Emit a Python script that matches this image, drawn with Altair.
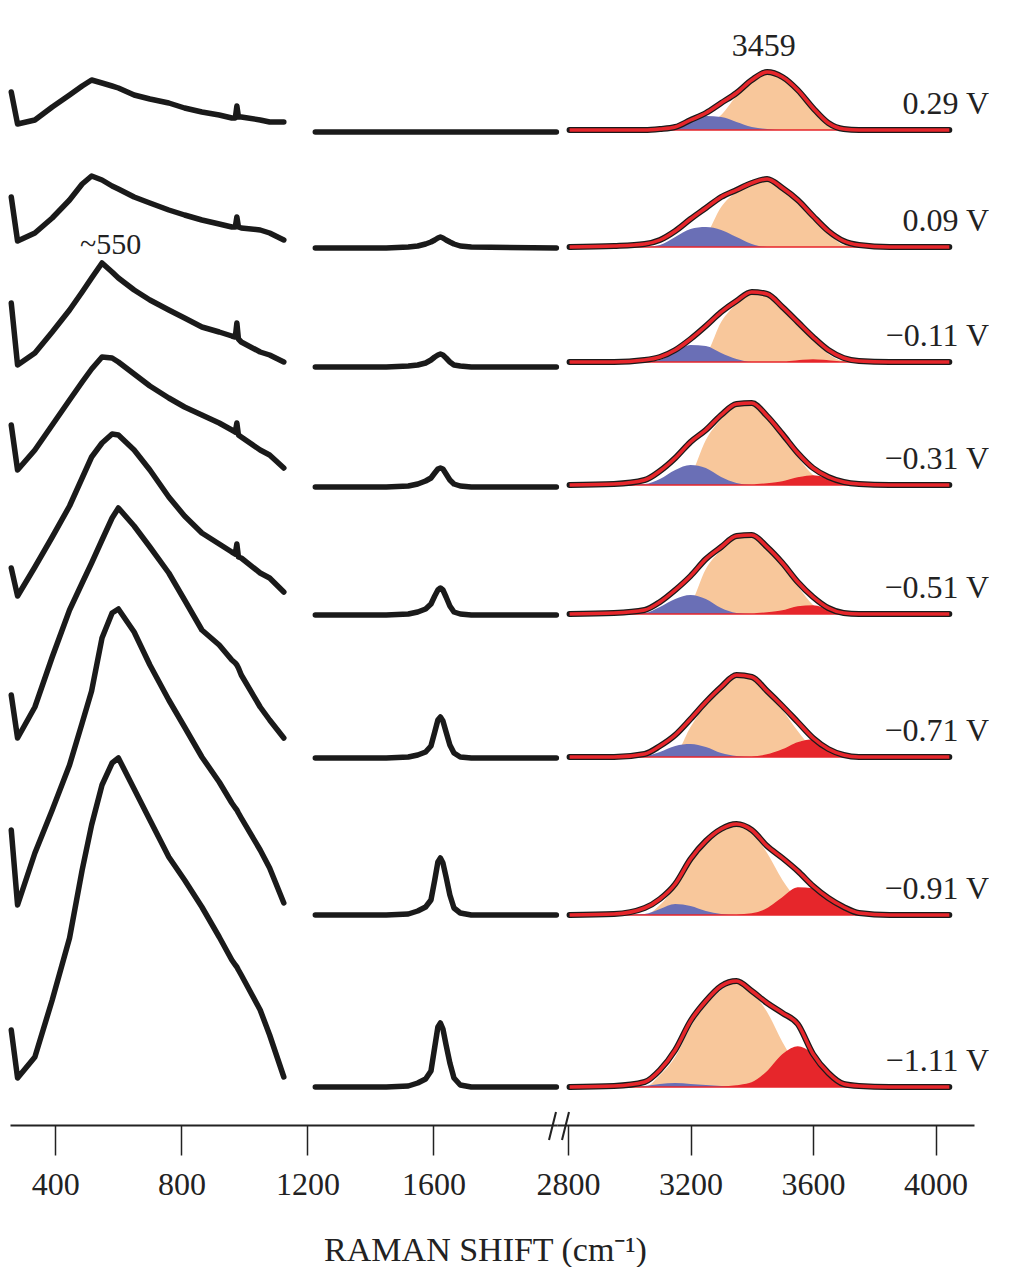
import altair as alt
import pandas as pd

# ---------------- data ----------------
VOLTS = ["0.29 V", "0.09 V", "\u22120.11 V", "\u22120.31 V",
         "\u22120.51 V", "\u22120.71 V", "\u22120.91 V", "\u22121.11 V"]

# low-frequency region (absolute stacked intensity, arbitrary units)
LEFT_W = [260, 280, 335, 390, 445, 485, 515, 548, 580, 600, 650, 700, 760, 810,
          865, 920, 960, 971, 976, 981, 990, 1050, 1080, 1125]
LEFT_1 = [1033, 1001, 1005, 1018, 1030, 1039, 1045, 1042, 1039, 1037, 1030, 1026, 1022, 1017,
          1013, 1010, 1007, 1007, 1019, 1008, 1008, 1005, 1003, 1003]
LEFT_2 = [928, 884, 892, 907, 925, 941, 949, 945, 939, 936, 928, 922, 915, 910,
          905, 901, 898, 898, 908, 898, 897, 895, 892, 885]
LEFT_3 = [822, 760, 772, 793, 815, 833, 847, 862, 853, 847, 835, 825, 815, 807,
          798, 793, 789, 788, 802, 786, 783, 773, 770, 763]
LEFT_4 = [700, 655, 675, 700, 725, 743, 756, 768, 767, 763, 751, 739, 727, 718,
          710, 702, 695, 693, 702, 690, 688, 675, 670, 657]
LEFT_5 = [557, 529, 558, 588, 619, 647, 668, 682, 691, 690, 675, 655, 628, 609,
          592, 581, 573, 571, 581, 568, 567, 552, 547, 533]
LEFT_6 = [430, 387, 418, 468, 515, 542, 562, 585, 607, 617, 599, 578, 552, 525,
          495, 480, 465, 462, 460, 457, 450, 418, 405, 387]
LEFT_7 = [295, 220, 272, 315, 360, 402, 434, 487, 512, 516, 493, 460, 425, 398,
          368, 343, 322, 317, 315, 312, 307, 275, 257, 222]
LEFT_8 = [95, 47, 68, 125, 187, 255, 300, 340, 362, 367, 336, 305, 268, 245,
          218, 188, 165, 160, 158, 155, 150, 115, 90, 48]
LEFT = [LEFT_1, LEFT_2, LEFT_3, LEFT_4, LEFT_5, LEFT_6, LEFT_7, LEFT_8]

# bending-mode region (offset + intensity)
MID_W = [1225, 1450, 1520, 1550, 1575, 1592, 1604, 1614, 1622, 1630, 1640, 1652,
         1665, 1685, 1720, 1990]
MID_BASE = [993, 877, 758, 638, 510, 367, 210, 38]
MID_1 = [0, 0, 0, 0, 0, 0, 0, 0, 0, 0, 0, 0, 0, 0, 0, 0]
MID_2 = [0, 0, 1, 2, 4, 6, 8, 10, 11, 10, 8, 6, 4, 2, 1, 0]
MID_3 = [0, 0, 1, 2, 4, 7, 10, 12, 13, 12, 9, 5, 2, 1, 0, 0]
MID_4 = [0, 0, 1, 3, 6, 9, 14, 18, 19, 18, 13, 7, 3, 1, 0, 0]
MID_5 = [0, 0, 1, 3, 6, 11, 19, 25, 27, 25, 18, 9, 3, 1, 0, 0]
MID_6 = [0, 0, 1, 3, 6, 12, 26, 38, 41, 37, 26, 13, 5, 1, 0, 0]
MID_7 = [0, 0, 1, 4, 8, 15, 35, 53, 57, 52, 38, 20, 7, 2, 0, 0]
MID_8 = [0, 0, 1, 4, 8, 16, 40, 60, 64, 58, 42, 24, 9, 2, 0, 0]
MID = [MID_1, MID_2, MID_3, MID_4, MID_5, MID_6, MID_7, MID_8]

# O-H stretching region (offset + intensity): measured total and fitted components
R_W = [2805, 2950, 3050, 3100, 3150, 3200, 3250, 3300, 3350, 3400, 3450, 3500,
       3550, 3600, 3650, 3700, 3750, 3850, 4045]
R_BASE = [995, 878, 763, 640, 511, 368, 210, 38]
TOTAL = [
    [0, 0, 0, 1, 3, 10, 17, 27, 37, 50, 58, 53, 40, 22, 7, 1, 0, 0, 0],
    [0, 1, 3, 7, 16, 28, 39, 50, 57, 64, 68, 59, 47, 31, 16, 6, 2, 0, 0],
    [0, 0, 2, 5, 12, 23, 36, 50, 61, 70, 68, 55, 40, 25, 12, 4, 1, 0, 0],
    [0, 1, 5, 14, 27, 43, 55, 70, 81, 82, 69, 51, 32, 17, 8, 3, 1, 0, 0],
    [0, 1, 4, 12, 24, 38, 55, 67, 78, 79, 67, 51, 32, 17, 6, 1, 0, 0, 0],
    [0, 0, 3, 11, 22, 38, 55, 70, 82, 80, 66, 51, 35, 19, 8, 2, 0, 0, 0],
    [0, 1, 7, 16, 31, 56, 74, 86, 91, 85, 69, 57, 44, 29, 17, 8, 2, 0, 0],
    [0, 1, 5, 17, 37, 66, 86, 101, 106, 96, 84, 74, 63, 33, 14, 3, 1, 0, 0],
]
BLUE = [
    [0, 0, 0, 0, 3, 10, 14, 13, 8, 3, 1, 0, 0, 0, 0, 0, 0, 0, 0],
    [0, 0, 0, 2, 10, 18, 20, 17, 10, 3, 0, 0, 0, 0, 0, 0, 0, 0, 0],
    [0, 0, 0, 2, 10, 17, 16, 9, 3, 0, 0, 0, 0, 0, 0, 0, 0, 0, 0],
    [0, 0, 1, 6, 15, 20, 17, 8, 2, 0, 0, 0, 0, 0, 0, 0, 0, 0, 0],
    [0, 0, 1, 7, 15, 19, 15, 6, 1, 0, 0, 0, 0, 0, 0, 0, 0, 0, 0],
    [0, 0, 1, 5, 11, 13, 10, 4, 1, 0, 0, 0, 0, 0, 0, 0, 0, 0, 0],
    [0, 0, 1, 6, 11, 9, 4, 1, 0, 0, 0, 0, 0, 0, 0, 0, 0, 0, 0],
    [0, 0, 1, 3, 4, 3, 2, 1, 0, 0, 0, 0, 0, 0, 0, 0, 0, 0, 0],
]
ORANGE = [
    [0, 0, 0, 0, 0, 2, 5, 15, 34, 48, 57, 52, 39, 21, 5, 0, 0, 0, 0],
    [0, 0, 0, 0, 0, 3, 12, 40, 55, 63, 68, 59, 46, 30, 14, 2, 0, 0, 0],
    [0, 0, 0, 0, 0, 2, 8, 40, 58, 69, 68, 55, 40, 24, 8, 1, 0, 0, 0],
    [0, 0, 0, 0, 0, 10, 45, 66, 80, 82, 69, 50, 28, 10, 2, 0, 0, 0, 0],
    [0, 0, 0, 0, 0, 10, 45, 64, 77, 79, 67, 50, 28, 9, 1, 0, 0, 0, 0],
    [0, 0, 0, 0, 3, 30, 52, 68, 81, 80, 65, 47, 26, 8, 1, 0, 0, 0, 0],
    [0, 0, 0, 10, 28, 52, 72, 85, 91, 83, 62, 35, 15, 4, 0, 0, 0, 0, 0],
    [0, 0, 0, 12, 30, 60, 82, 97, 106, 95, 75, 45, 20, 6, 1, 0, 0, 0, 0],
]
RED = [
    [0, 0, 0, 0, 0, 0, 0, 0, 0, 0, 0, 0, 0, 0, 0, 0, 0, 0, 0],
    [0, 0, 0, 0, 0, 0, 0, 0, 0, 0, 0, 0, 0, 0, 0, 0, 0, 0, 0],
    [0, 0, 0, 0, 0, 0, 0, 0, 0, 0, 0, 0, 1, 2, 1, 0, 0, 0, 0],
    [0, 0, 0, 0, 0, 0, 0, 0, 0, 0, 1, 3, 7, 9, 6, 2, 0, 0, 0],
    [0, 0, 0, 0, 0, 0, 0, 0, 0, 0, 1, 3, 7, 8, 4, 1, 0, 0, 0],
    [0, 0, 0, 0, 0, 0, 0, 0, 0, 0, 2, 7, 14, 17, 7, 2, 0, 0, 0],
    [0, 0, 0, 0, 0, 0, 0, 0, 0, 1, 6, 17, 27, 26, 16, 7, 2, 0, 0],
    [0, 0, 0, 0, 0, 0, 0, 0, 1, 4, 15, 32, 40, 32, 14, 3, 1, 0, 0],
]

LEFT_TICKS = [400, 800, 1200, 1600]
RIGHT_TICKS = [2800, 3200, 3600, 4000]
PEAK_LABEL_550 = "~550"
PEAK_LABEL_3459 = "3459"


# ---------------- tables ----------------
def long_df(xs, series_list, bases, prefix):
    rows = []
    for i, vals in enumerate(series_list):
        b = bases[i] if bases is not None else 0
        for x, v in zip(xs, vals):
            rows.append({"w": x, "y": b + v, "y0": b, "series": f"{prefix}{i}"})
    return pd.DataFrame(rows)


df_left = long_df(LEFT_W, LEFT, None, "L")
df_mid = long_df(MID_W, MID, MID_BASE, "M")
df_tot = long_df(R_W, TOTAL, R_BASE, "T")
df_blue = long_df(R_W, BLUE, R_BASE, "B")
df_orange = long_df(R_W, ORANGE, R_BASE, "O")
df_red = long_df(R_W, RED, R_BASE, "R")
df_labels = pd.DataFrame({"label": VOLTS, "y": R_BASE})
df_a3459 = pd.DataFrame({"w": [3459], "y": [R_BASE[0] + max(TOTAL[0])], "t": [PEAK_LABEL_3459]})
df_a550 = pd.DataFrame({"w": [550], "y": [max(LEFT_3)], "t": [PEAK_LABEL_550]})

# ---------------- styling ----------------
FONT = "Liberation Serif"
INK = "#1a1a1a"
TXT = "#222222"
C_ORANGE = "#F8C79B"
C_BLUE = "#6A6FB6"
C_RED = "#E6262B"
H = 1117
W_LEFT = 547
W_RIGHT = 417

axis_common = dict(
    domainColor=TXT, domainWidth=2, tickColor=TXT, tickWidth=1.5, tickSize=30,
    labelFont=FONT, labelFontSize=32, labelColor=TXT, labelPadding=14,
    labelFlush=False, labelOverlap=False, grid=False, format="d",
)

y_enc = alt.Y("y:Q", scale=alt.Scale(domain=[0, H], nice=False, zero=False), axis=None)

x_left = alt.X(
    "w:Q",
    scale=alt.Scale(domain=[256, 1992], nice=False, zero=False),
    axis=alt.Axis(
        values=LEFT_TICKS, title="RAMAN SHIFT (cm\u207b\u00b9)",
        titleFont=FONT, titleFontSize=34, titleFontWeight="normal", titleColor=TXT,
        titleX=475, titleY=135, titleAlign="center", titleBaseline="alphabetic",
        **axis_common,
    ),
)
x_right = alt.X(
    "w:Q",
    scale=alt.Scale(domain=[2764, 4125.6], nice=False, zero=False),
    axis=alt.Axis(values=RIGHT_TICKS, title=None, **axis_common),
)

# ---------------- left panel ----------------
left_lines = alt.Chart(pd.concat([df_left, df_mid], ignore_index=True)).mark_line(
    color=INK, strokeWidth=5.5, strokeJoin="round", strokeCap="round"
).encode(x=x_left, y=y_enc, detail="series:N")

ann550 = alt.Chart(df_a550).mark_text(
    font=FONT, fontSize=30, color=TXT, align="center", baseline="alphabetic", dx=8, dy=-9
).encode(x=x_left, y=y_enc, text="t:N")

slash1 = alt.Chart(pd.DataFrame({"k": [0]})).mark_rule(color=TXT, strokeWidth=2).encode(
    x=alt.value(539), x2=alt.value(546), y=alt.value(1132), y2=alt.value(1104)
)
slash2 = alt.Chart(pd.DataFrame({"k": [0]})).mark_rule(color=TXT, strokeWidth=2).encode(
    x=alt.value(552), x2=alt.value(559), y=alt.value(1132), y2=alt.value(1104)
)

left = alt.layer(left_lines, ann550, slash1, slash2).properties(width=W_LEFT, height=H)

# ---------------- right panel ----------------
def comp_area(df, color, stroke=None):
    kw = dict(color=color, opacity=1, interpolate="monotone")
    if stroke:
        kw.update(stroke=stroke, strokeWidth=1.5)
    return alt.Chart(df).mark_area(**kw).encode(
        x=x_right, y=y_enc, y2="y0:Q", detail="series:N"
    )

a_orange = comp_area(df_orange, C_ORANGE)
a_blue = comp_area(df_blue, C_BLUE)
a_red = comp_area(df_red, C_RED, stroke=C_RED)

data_line = alt.Chart(df_tot).mark_line(
    color=INK, strokeWidth=6, interpolate="monotone", strokeJoin="round", strokeCap="round"
).encode(x=x_right, y=y_enc, detail="series:N")
fit_line = alt.Chart(df_tot).mark_line(
    color=C_RED, strokeWidth=3.5, interpolate="monotone", strokeJoin="round"
).encode(x=x_right, y=y_enc, detail="series:N")

volt_labels = alt.Chart(df_labels).mark_text(
    font=FONT, fontSize=32, color=TXT, align="right", baseline="alphabetic", dy=-16
).encode(x=alt.value(432), y=y_enc, text="label:N")

ann3459 = alt.Chart(df_a3459).mark_text(
    font=FONT, fontSize=32, color=TXT, align="center", baseline="alphabetic", dx=-6, dy=-16
).encode(x=x_right, y=y_enc, text="t:N")

right = alt.layer(a_orange, a_blue, a_red, data_line, fit_line, volt_labels, ann3459).properties(
    width=W_RIGHT, height=H
)

chart = (
    alt.hconcat(left, right, spacing=0, bounds="flush")
    .resolve_scale(x="independent", y="independent")
    .properties(padding=0)
    .configure_view(stroke=None)
)

chart.save("out.html", embed_options={"renderer": "svg", "actions": False})
